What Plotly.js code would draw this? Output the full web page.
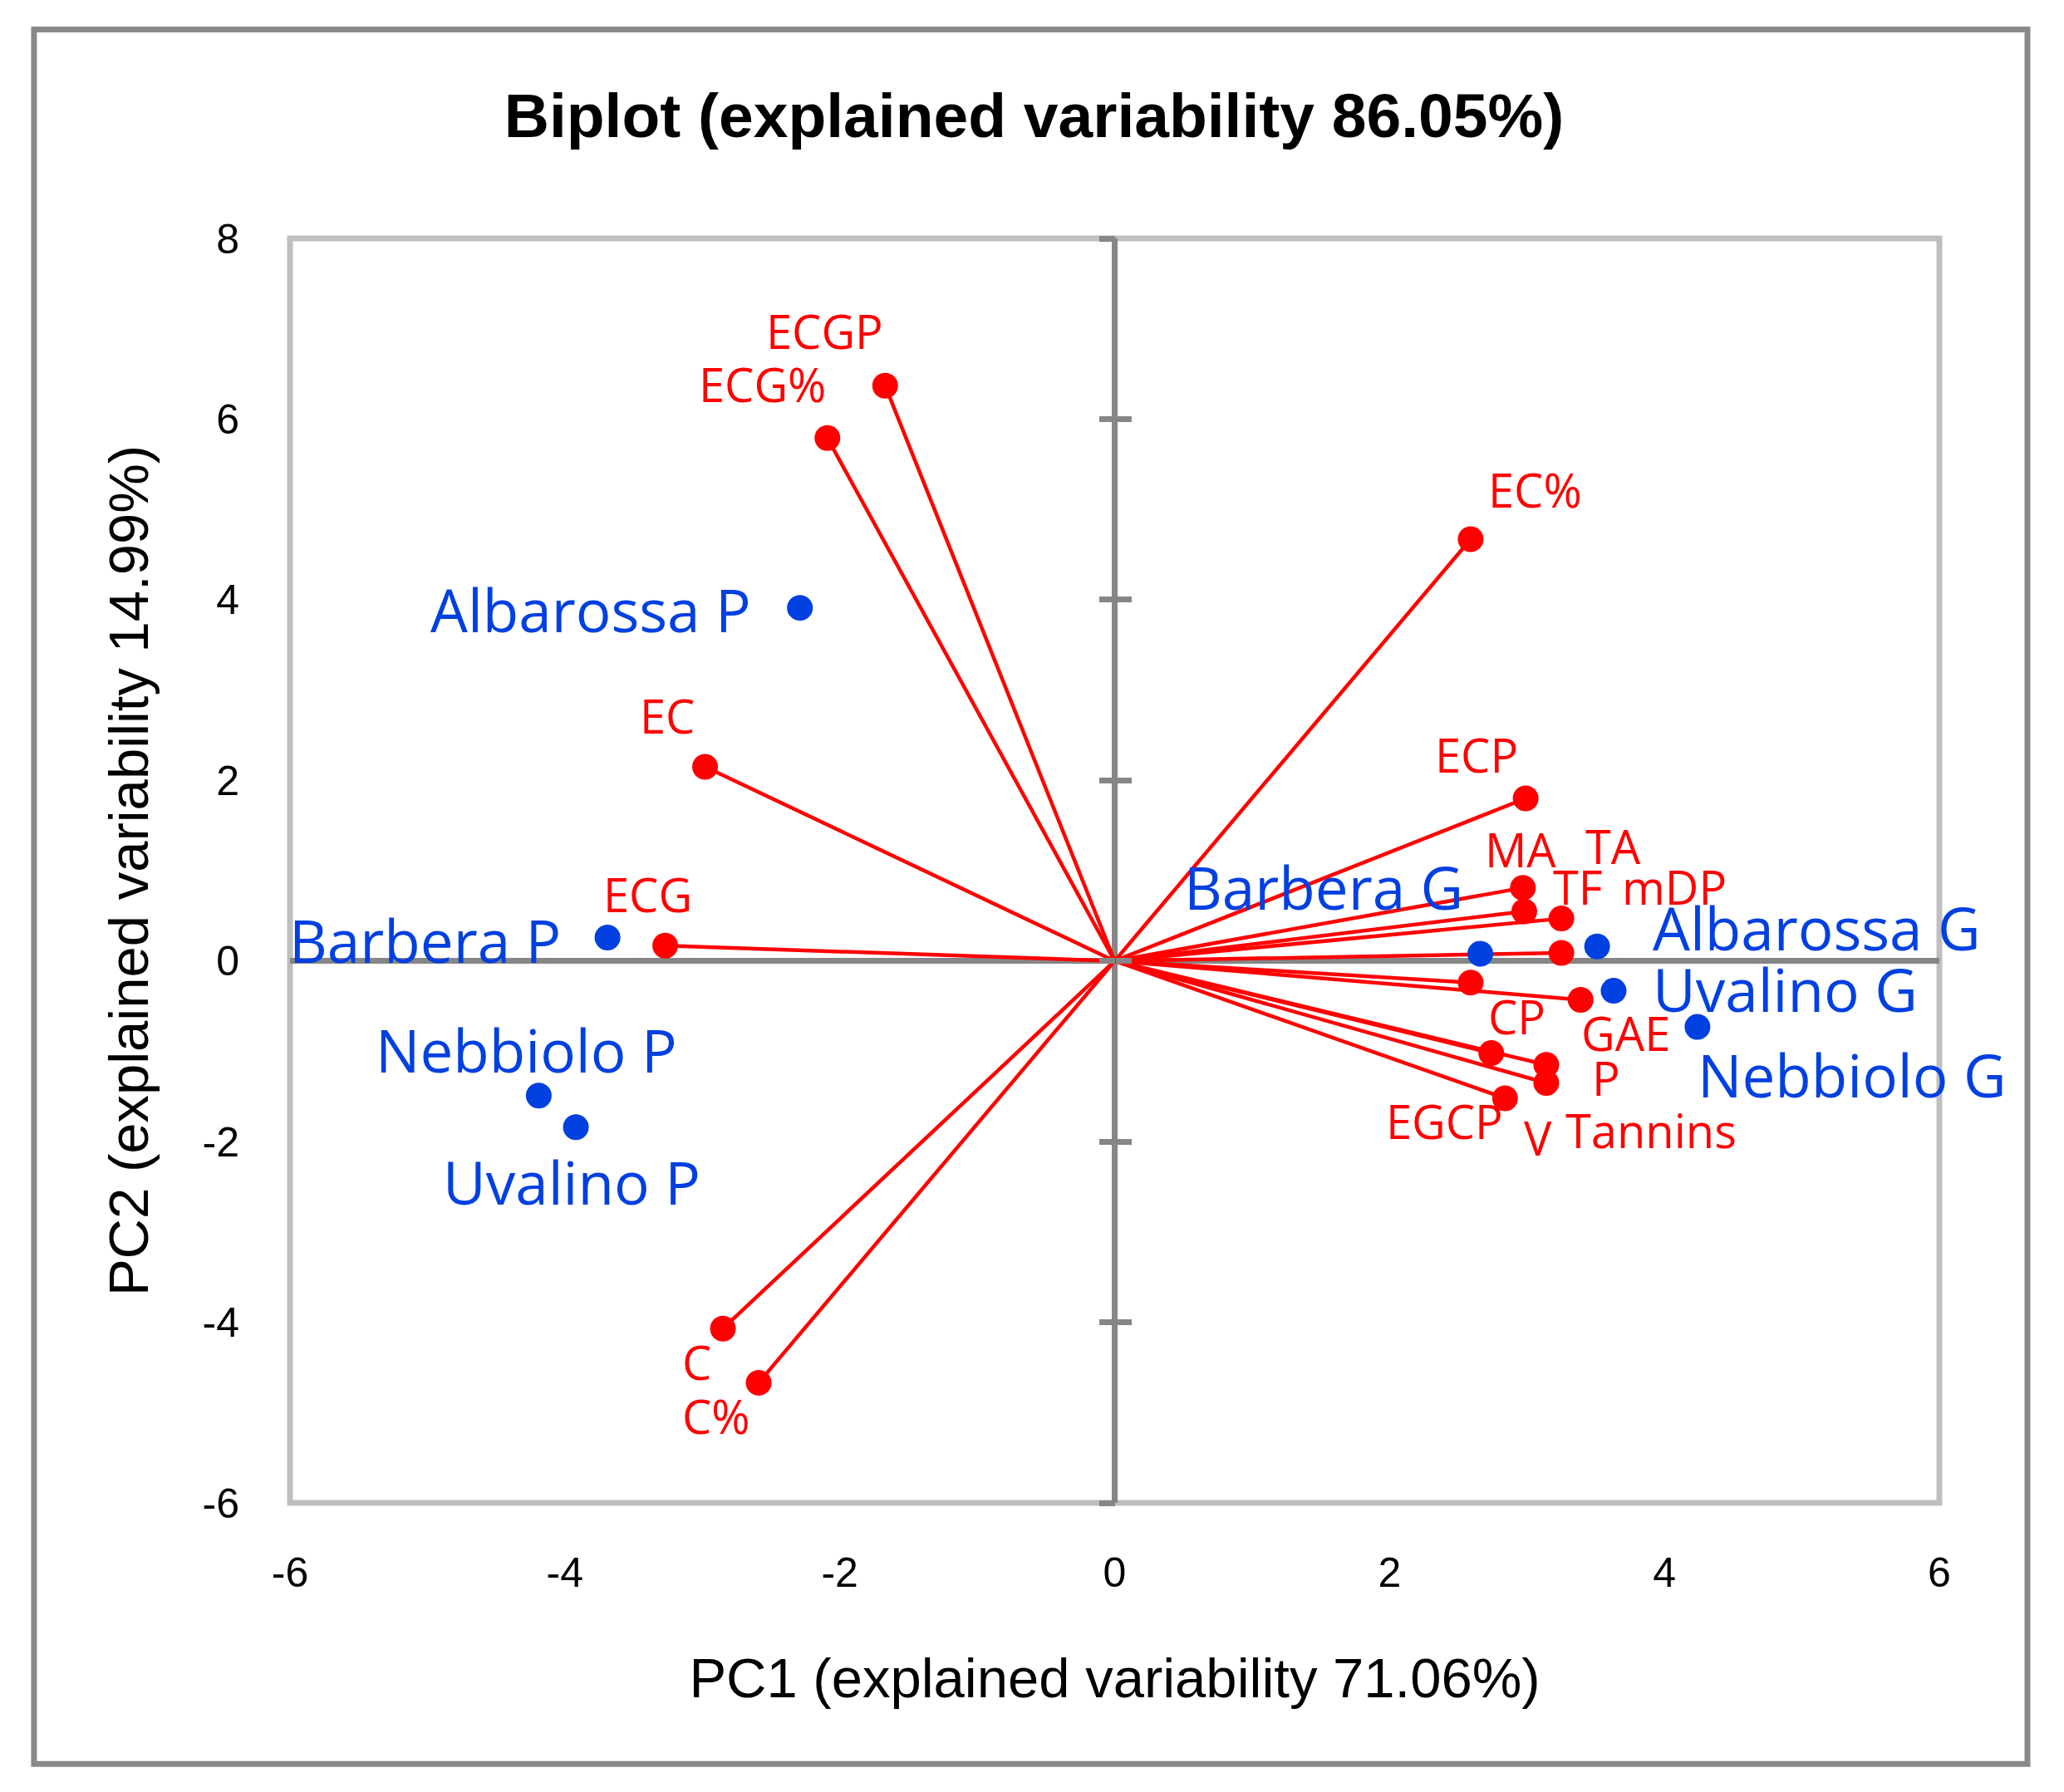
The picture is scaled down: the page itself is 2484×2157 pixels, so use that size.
<!DOCTYPE html>
<html>
<head>
<meta charset="utf-8">
<script src="https://cdn.plot.ly/plotly-3.0.1.min.js"></script>
<style>html,body{margin:0;padding:0;background:#fff;}#chart{width:2484px;height:2157px;}</style>
</head>
<body>
<div id="chart"></div>
<script>
// ---- data ----
const varNames = ['ECGP','ECG%','EC%','EC','ECG','C','C%','ECP','MA','TF','TA','mDP','CP','GAE','Tannins','P','V','EGCP'];
const varPC1 = [-1.67,-2.09,2.59,-2.98,-3.27,-2.85,-2.59,2.99,2.97,2.98,3.25,3.25,2.59,3.39,2.74,3.14,3.14,2.84];
const varPC2 = [6.37,5.79,4.67,2.15,0.17,-4.07,-4.67,1.80,0.81,0.55,0.47,0.09,-0.24,-0.43,-1.02,-1.15,-1.35,-1.52];

const objNames = ['Albarossa P','Barbera P','Nebbiolo P','Uvalino P','Barbera G','Albarossa G','Uvalino G','Nebbiolo G'];
const objPC1 = [-2.29,-3.69,-4.19,-3.92,2.66,3.51,3.63,4.24];
const objPC2 = [3.91,0.26,-1.49,-1.84,0.08,0.16,-0.33,-0.73];

const xTicks = [-6,-4,-2,0,2,4,6];
const yTicks = [-6,-4,-2,0,2,4,6,8];

const chartTitle = 'Biplot (explained variability 86.05%)';
const xTitle = 'PC1 (explained variability 71.06%)';
const yTitle = 'PC2 (explained variability 14.99%)';

// ---- label placement (style): [xanchor, dx px, dy px (down positive)] ----
const varLabelPos = {
  'ECGP':['center',-73,-66], 'ECG%':['center',-78,-65], 'EC%':['center',78,-60],
  'EC':['center',-46,-62], 'ECG':['center',-21,-62], 'C':['center',-32,40], 'C%':['center',-51,40],
  'ECP':['center',-59,-53], 'MA':['center',-3,-47], 'TF':['center',65,-30], 'TA':['center',62,-88],
  'mDP':['center',136,-80], 'CP':['center',56,40], 'GAE':['center',54,40], 'Tannins':['center',192,92],
  'P':['center',72,15], 'V':['center',-10,66], 'EGCP':['center',-73,27]
};
const objLabelPos = {
  'Albarossa P':['right',-57,2], 'Barbera P':['right',-54,3], 'Nebbiolo P':['center',-15,-55],
  'Uvalino P':['center',-5,66], 'Barbera G':['right',-19,-81], 'Albarossa G':['left',65,-23],
  'Uvalino G':['left',45,-2], 'Nebbiolo G':['left',-2,57]
};

const RED = '#ff0000';
const BLUE = '#0040e0';
const AXISGRAY = '#868686';
const BOXGRAY = '#bfbfbf';

// vectors from origin
const lx = [], ly = [];
varPC1.forEach((v,i)=>{ lx.push(0, v, null); ly.push(0, varPC2[i], null); });

const traces = [
  {type:'scatter', mode:'lines', x:lx, y:ly, xaxis:'x', yaxis:'y',
   line:{color:RED, width:4.5}, hoverinfo:'skip', showlegend:false},
  {type:'scatter', mode:'markers', x:varPC1, y:varPC2, text:varNames, xaxis:'x', yaxis:'y2',
   marker:{color:RED, size:31}, hoverinfo:'skip', showlegend:false},
  {type:'scatter', mode:'markers', x:objPC1, y:objPC2, text:objNames, xaxis:'x', yaxis:'y3',
   marker:{color:BLUE, size:31}, hoverinfo:'skip', showlegend:false}
];

const annotations = [];
varNames.forEach((n,i)=>{
  const p = varLabelPos[n];
  annotations.push({x:varPC1[i], y:varPC2[i], xref:'x', yref:'y', text:n, showarrow:false,
    xanchor:p[0], yanchor:'middle', xshift:p[1], yshift:-p[2],
    font:{family:'Open Sans, sans-serif', size:56, color:RED}});
});
objNames.forEach((n,i)=>{
  const p = objLabelPos[n];
  annotations.push({x:objPC1[i], y:objPC2[i], xref:'x', yref:'y', text:n, showarrow:false,
    xanchor:p[0], yanchor:'middle', xshift:p[1], yshift:-p[2],
    font:{family:'Open Sans, sans-serif', size:71, color:BLUE}});
});

const tickFont = {family:'Liberation Sans, Arial, sans-serif', size:50, color:'#000'};
const crossAxis = {overlaying:'y', anchor:'free', position:0.5, range:[-6,8], tickvals:yTicks,
  showticklabels:false, showgrid:false, zeroline:false, showline:false,
  ticklen:19, tickwidth:7, tickcolor:AXISGRAY, fixedrange:true};

const layout = {
  width:2484, height:2157,
  margin:{l:348.5, r:150, t:287, b:348},
  paper_bgcolor:'#fff', plot_bgcolor:'#fff',
  showlegend:false,
  title:{text:chartTitle, xref:'container', yref:'container', x:0.501, y:1-139/2157,
    xanchor:'center', yanchor:'middle',
    font:{family:'Liberation Sans, Arial, sans-serif', size:75, color:'#000', weight:700}},
  xaxis:{range:[-6,6], tickvals:xTicks, ticktext:xTicks.map(String), showgrid:false,
    zeroline:true, zerolinecolor:AXISGRAY, zerolinewidth:7, showline:false,
    ticks:'outside', ticklen:40, tickcolor:'rgba(0,0,0,0)', tickfont:tickFont,
    title:{text:xTitle, standoff:76, font:{family:'Liberation Sans, Arial, sans-serif', size:67, color:'#000'}},
    fixedrange:true},
  yaxis:{range:[-6,8], tickvals:yTicks, ticktext:yTicks.map(String), showgrid:false,
    zeroline:true, zerolinecolor:AXISGRAY, zerolinewidth:7, showline:false,
    ticks:'outside', ticklen:50, tickcolor:'rgba(0,0,0,0)', tickfont:tickFont,
    title:{text:yTitle, standoff:43, font:{family:'Liberation Sans, Arial, sans-serif', size:67, color:'#000'}},
    fixedrange:true},
  yaxis2:Object.assign({}, crossAxis, {ticks:'outside', side:'left'}),
  yaxis3:Object.assign({}, crossAxis, {ticks:'inside', side:'left'}),
  shapes:[
    {type:'rect', xref:'paper', yref:'paper', x0:0, x1:1, y0:0, y1:1, layer:'below',
     line:{color:BOXGRAY, width:7}, fillcolor:'rgba(0,0,0,0)'},
    {type:'rect', xref:'paper', yref:'paper', x0:-0.1552, x1:1.0534, y0:-0.2065, y1:1.1653, layer:'below',
     line:{color:'#888888', width:7}, fillcolor:'rgba(0,0,0,0)'}
  ],
  annotations:annotations
};

Plotly.newPlot('chart', traces, layout, {staticPlot:true, displayModeBar:false});
</script>
</body>
</html>
